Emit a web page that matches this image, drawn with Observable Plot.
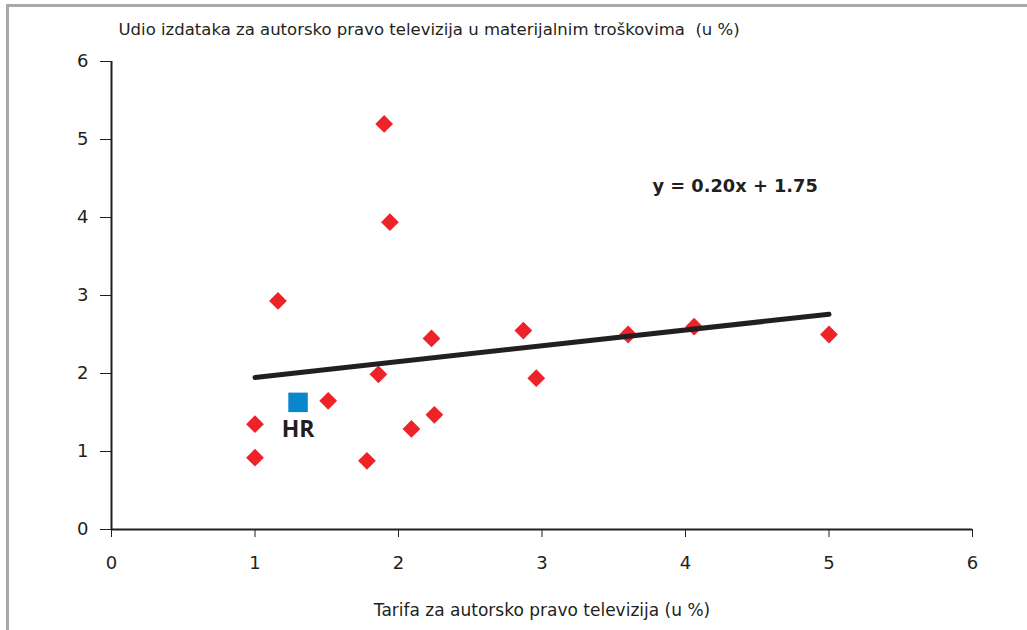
<!DOCTYPE html>
<html>
<head>
<meta charset="utf-8">
<script src="https://cdn.jsdelivr.net/npm/d3@7"></script>
<script src="https://cdn.jsdelivr.net/npm/@observablehq/plot@0.6"></script>
<style>
  html, body { margin: 0; padding: 0; background: #fff; }
  #wrap { position: relative; width: 1027px; height: 630px; overflow: hidden; }
  #frame { position: absolute; left: 6px; top: 4px; right: 0; bottom: 0;
           border-top: 3px solid #a7a9ac; border-left: 3px solid #a7a9ac; pointer-events: none; }
  #chart { position: absolute; left: 0; top: 0; }
  svg { font-family: "DejaVu Sans", sans-serif; }
</style>
</head>
<body>
<div id="wrap"><div id="chart"></div><div id="frame"></div></div>
<script>
// Data
const tarifa = [1.00, 1.00, 1.16, 1.51, 1.86, 1.90, 1.94, 1.78, 2.09, 2.23, 2.25, 2.87, 2.96, 3.60, 4.06, 5.00];
const udio   = [1.35, 0.92, 2.93, 1.65, 1.99, 5.20, 3.94, 0.88, 1.29, 2.45, 1.47, 2.55, 1.94, 2.50, 2.60, 2.50];
const hrTarifa = [1.30];
const hrUdio = [1.63];
const hrLabel = ["HR"];
const trendX = [1, 5];
const trendY = [1.95, 2.76];
const equation = ["y = 0.20x + 1.75"];
const equationPos = [3.77, 4.40];
const xTicks = [0, 1, 2, 3, 4, 5, 6];
const yTicks = [0, 1, 2, 3, 4, 5, 6];
const xLabel = "Tarifa za autorsko pravo televizija (u %)";
const yLabel = "Udio izdataka za autorsko pravo televizija u materijalnim troškovima  (u %)";

const points = tarifa.map((x, i) => ({x, y: udio[i]}));
const hr = hrTarifa.map((x, i) => ({x, y: hrUdio[i], label: hrLabel[i]}));
const trend = trendX.map((x, i) => ({x, y: trendY[i]}));

const ink = "#231f20";

const plot = Plot.plot({
  width: 1027,
  height: 630,
  marginLeft: 111,
  marginRight: 55,
  marginTop: 61,
  marginBottom: 101,
  style: {fontSize: "16px", color: ink, background: "transparent"},
  x: {domain: [0, 6], ticks: xTicks, tickFormat: "d"},
  y: {domain: [0, 6], ticks: yTicks, tickFormat: "d"},
  marks: [
    Plot.axisX({ticks: xTicks, tickFormat: "d", tickSize: 8, tickPadding: 19, stroke: ink, strokeWidth: 1, fontSize: 18, label: null}),
    Plot.axisY({ticks: yTicks, tickFormat: "d", tickSize: 11, tickPadding: 12, stroke: ink, strokeWidth: 1, fontSize: 18, label: null}),
    Plot.ruleY([0], {stroke: ink, strokeWidth: 2}),
    Plot.ruleX([0], {stroke: ink, strokeWidth: 2}),
    Plot.text([xLabel], {frameAnchor: "bottom", dy: 86, fontSize: 17, fill: ink}),
    Plot.text([yLabel], {frameAnchor: "top-left", dx: 7, dy: -38, textAnchor: "start", fontSize: 16.5, fill: ink}),
    Plot.dot(points, {x: "x", y: "y", symbol: "diamond2", r: 8, fill: "#ee2229", stroke: "none"}),
    Plot.line(trend, {x: "x", y: "y", stroke: ink, strokeWidth: 5, strokeLinecap: "round"}),
    Plot.dot(hr, {x: "x", y: "y", symbol: "square", r: 11, fill: "#0a86cc", stroke: "none"}),
    Plot.text(hr, {x: "x", y: "y", text: "label", dy: 27, fontSize: 23, fontWeight: "bold", fill: ink, fontFamily: "Open Sans, sans-serif"}),
    Plot.text(equation, {x: () => equationPos[0], y: () => equationPos[1], textAnchor: "start", fontSize: 17.8, fontWeight: "bold", fill: ink})
  ]
});
document.getElementById("chart").appendChild(plot);
</script>
</body>
</html>
